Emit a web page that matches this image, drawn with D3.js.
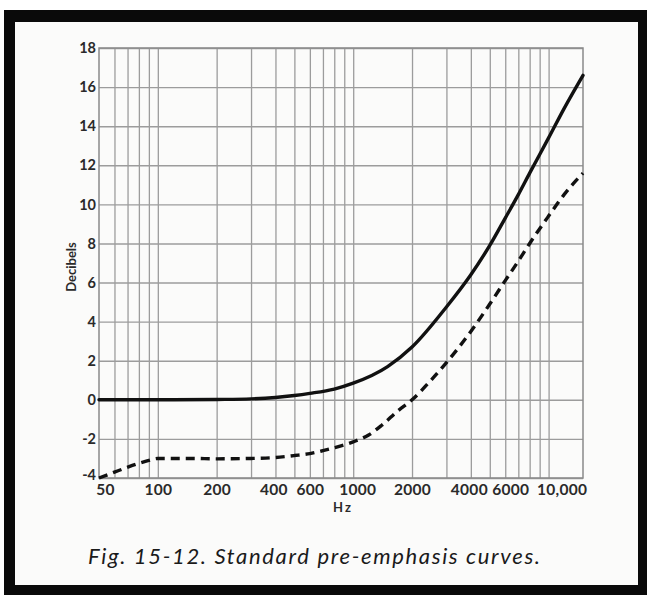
<!DOCTYPE html>
<html><head><meta charset="utf-8">
<script src="https://cdn.jsdelivr.net/npm/d3@7"></script>
<style>
html,body{margin:0;padding:0;background:#fff;}
svg{display:block;}
</style></head>
<body>
<svg id="c" width="647" height="595"></svg>
<script>
// ---- data ----
const solidFreq = [50, 100, 200, 300, 400, 500, 600, 800, 1000, 1500, 2000, 3000, 4000, 5000, 6000, 7000, 8000, 10000, 12000, 15000];
const solidDb   = [0, 0, 0.02, 0.05, 0.12, 0.22, 0.33, 0.55, 0.85, 1.7, 2.7, 4.75, 6.4, 7.9, 9.3, 10.5, 11.6, 13.4, 14.9, 16.6];
const dashFreq  = [50, 60, 70, 80, 90, 100, 150, 200, 300, 400, 500, 600, 700, 800, 1000, 1200, 1400, 1700, 2000, 2500, 3000, 4000, 5000, 6000, 7000, 8000, 10000, 12000, 15000];
const dashDb    = [-4.0, -3.7, -3.45, -3.25, -3.1, -3.0, -3.0, -3.02, -3.0, -2.95, -2.85, -2.75, -2.6, -2.45, -2.15, -1.8, -1.3, -0.55, 0.0, 1.0, 1.9, 3.5, 4.9, 6.1, 7.1, 8.0, 9.4, 10.5, 11.6];
const xTickValues = [50, 100, 200, 400, 600, 1000, 2000, 4000, 6000, 10000];
const xTickLabels = ["50", "100", "200", "400", "600", "1000", "2000", "4000", "6000", "10,000"];
const xGridValues = [60, 70, 80, 90, 100, 200, 300, 400, 500, 600, 700, 800, 900, 1000, 2000, 3000, 4000, 5000, 6000, 7000, 8000, 9000, 10000];
const yTickValues = [-4, -2, 0, 2, 4, 6, 8, 10, 12, 14, 16, 18];
const yTitle = "Decibels";
const xTitle = "Hz";
const caption = "Fig. 15-12. Standard pre-emphasis curves.";

// ---- drawing ----
const svg = d3.select("#c");
const FONT = "Lato, 'DejaVu Sans', sans-serif";
// frame
svg.append("rect").attr("x", 4).attr("y", 10).attr("width", 643).attr("height", 585).attr("fill", "#0a0a0a");
svg.append("rect").attr("x", 15).attr("y", 22).attr("width", 623).attr("height", 563).attr("fill", "#fbfbfa");

const L = 99, R = 583, T = 48, B = 478;
const x = d3.scaleLog().domain([50, 15000]).range([L, R]);
const y = d3.scaleLinear().domain([-4, 18]).range([B, T]);

const gridCol = "#9c9c9c";
const g = svg.append("g");
// vertical grid
g.append("g").attr("transform", `translate(0,${B})`)
  .call(d3.axisBottom(x).tickValues(xGridValues).tickSize(-(B - T)).tickFormat(""))
  .call(s => s.select(".domain").remove())
  .call(s => s.selectAll("line").attr("stroke", gridCol).attr("stroke-width", 1.3));
// horizontal grid
g.append("g").attr("transform", `translate(${L},0)`)
  .call(d3.axisLeft(y).tickValues(yTickValues).tickSize(-(R - L)).tickFormat(""))
  .call(s => s.select(".domain").remove())
  .call(s => s.selectAll("line").attr("stroke", gridCol).attr("stroke-width", 1.4));
// plot border
g.append("rect").attr("x", L).attr("y", T).attr("width", R - L).attr("height", B - T)
  .attr("fill", "none").attr("stroke", "#8a8a8a").attr("stroke-width", 1.5);

// x labels
const xLabelShift = {50: 6, 4000: -2, 6000: 5, 10000: 13, 1000: 4, 400: -2};
const xa = svg.append("g").attr("transform", `translate(0,${B})`)
  .call(d3.axisBottom(x).tickValues(xTickValues).tickSize(0).tickPadding(6)
    .tickFormat((d, i) => xTickLabels[i]));
xa.select(".domain").remove();
xa.selectAll("text").attr("font-family", FONT).attr("font-size", 15.5)
  .attr("font-weight", 700).attr("letter-spacing", 0.3).attr("fill", "#2a2a2a")
  .attr("dx", d => xLabelShift[d] || 0);

// y labels
const ya = svg.append("g").attr("transform", `translate(${L},0)`)
  .call(d3.axisLeft(y).tickValues(yTickValues).tickSize(0).tickPadding(3).tickFormat(d => String(d)));
ya.select(".domain").remove();
ya.selectAll("text").attr("font-family", FONT).attr("font-size", 14.5)
  .attr("font-weight", 700).attr("fill", "#2a2a2a")
  .attr("dy", d => d === -4 ? "0.1em" : "0.32em");

// curves
const line = d3.line().x(d => x(d[0])).y(d => y(d[1])).curve(d3.curveMonotoneX);
svg.append("path").datum(solidFreq.map((f, i) => [f, solidDb[i]]))
  .attr("d", line).attr("fill", "none").attr("stroke", "#111").attr("stroke-width", 3.4)
  .attr("stroke-linecap", "round");
svg.append("path").datum(dashFreq.map((f, i) => [f, dashDb[i]]))
  .attr("d", line).attr("fill", "none").attr("stroke", "#111").attr("stroke-width", 3.4)
  .attr("stroke-dasharray", "9,6");

// titles
svg.append("text").attr("transform", `translate(76,267) rotate(-90)`)
  .attr("text-anchor", "middle").attr("font-family", FONT)
  .attr("font-size", 13).attr("font-weight", 700).attr("fill", "#2a2a2a").text(yTitle);
svg.append("text").attr("x", 343).attr("y", 512).attr("text-anchor", "middle")
  .attr("font-family", FONT).attr("font-size", 13)
  .attr("font-weight", 700).attr("letter-spacing", 2).attr("fill", "#2a2a2a").text(xTitle);
svg.append("text").attr("x", 88).attr("y", 564)
  .attr("font-family", FONT).attr("font-size", 22)
  .attr("font-style", "italic").attr("fill", "#1a1a1a")
  .attr("textLength", 452).attr("lengthAdjust", "spacing").text(caption);
</script>
</body></html>
